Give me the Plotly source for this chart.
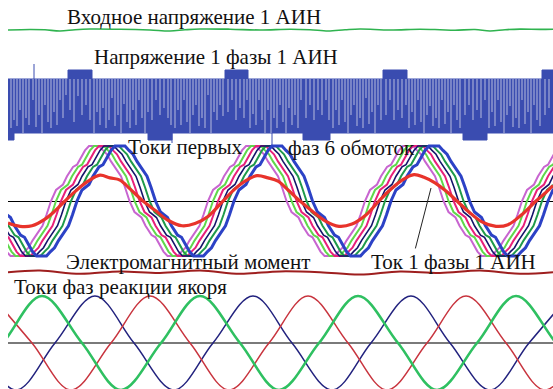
import plotly.graph_objects as go

W, H = 553, 389

# ---------------- data (time axis in samples, values in panel units) ----------------
# Input voltage of inverter 1 (small ripple around constant level)
vin_t = [8, 30, 45, 60, 75, 90, 120, 150, 170, 185, 200, 230, 260, 290, 310, 328, 345, 360, 390, 420, 440, 455, 475, 490, 505, 520, 540, 553]
vin_v = [0.0, 0.5, 0.2, -1.0, 0.3, 1.0, 0.8, 0.0, -1.0, 0.2, 1.0, 0.8, 0.0, 0.8, 0.3, -1.0, 0.2, 1.0, 0.0, 0.8, 0.3, -0.2, 0.5, -1.0, 0.3, 0.9, 0.6, 0.8]

# Phase voltage of inverter 1 (PWM): band levels and raised / lowered step intervals
pwm_band_hi, pwm_band_lo = 26, -28
pwm_step_hi, pwm_step_lo = 35, -35
pwm_up_start = [68, 225, 383, 542]
pwm_up_end = [92, 248, 407, 553]
pwm_dn_start = [8, 148, 303, 463]
pwm_dn_end = [14, 172, 330, 487]
pwm_t0, pwm_t1 = 8, 553
# switching gaps (instant, lower end of gap)
gap_t = [11, 14, 17, 20, 23, 26, 29, 33, 36, 39, 42, 45, 48, 51, 54, 57, 60, 63, 66,
         70, 74, 78, 82, 86, 90,
         94, 97, 100, 103, 106, 109, 112, 115, 118, 121, 124, 127, 130, 133, 136, 139, 142, 145,
         148, 152, 156, 160, 164, 168, 171,
         175, 178, 181, 184, 187, 190, 193, 196, 199, 202, 205, 208, 211, 214, 217, 220, 223,
         228, 232, 236, 240, 244, 247,
         250, 253, 256, 259, 262, 265, 268, 271, 274, 277, 280, 283, 286, 289, 292, 295, 298, 301,
         306, 310, 314, 318, 322, 326, 329,
         333, 336, 339, 342, 345, 348, 351, 354, 357, 360, 363, 366, 369, 372, 375, 378, 381,
         386, 390, 394, 398, 402, 406,
         409, 412, 415, 418, 421, 424, 427, 430, 433, 436, 439, 442, 445, 448, 451, 454, 457, 460,
         465, 469, 473, 477, 481, 485,
         489, 492, 495, 498, 501, 504, 507, 510, 513, 516, 519, 522, 525, 528, 531, 534, 537, 540,
         545, 549]
gap_lo = [-23, -15, -21, -5, -28, -13, -20, 5, -22, -10, -28, 0, -17, -23, -7, -20, 5, -13, 10,
          -5, -17, 9, -10, 0, -15,
          -28, -7, -20, -3, -23, -15, 7, -21, -10, -28, 1, -17, -23, -5, -20, 5, -13, -28,
          -7, -15, 5, -10, -3, -13, -20,
          -23, -5, -20, 5, -17, -28, -10, 0, -21, -13, -23, 10, -28, -7, -15, 0, -11,
          -7, 5, -15, -3, -13, 5,
          -23, -9, -20, 5, -15, -28, -5, -28, -13, -23, 0, -17, -28, -3, -20, -10, -23, 5,
          -13, 0, -15, -5, -10, 5, -15,
          -23, -5, -20, 5, -17, -28, -10, 0, -21, -13, -23, 7, -19, -7, -28, 0, -15,
          -10, 5, -15, -5, -13, 0,
          -23, -7, -20, 5, -17, -28, -10, -1, -21, -13, -23, 5, -19, -7, -28, 0, -15, -23,
          -10, 0, -15, -5, -13, 5,
          -23, -7, -21, 5, -17, -28, -10, -1, -22, -13, -23, 5, -19, -7, -28, 0, -15, -21,
          -10, -3]
spike_t = [34, 172, 272]
spike_end = [41, -38, -40]

# Currents of first phases of the 6 windings: one half-period shape, period, phase shifts
cur_period = 157
cur_shape_t = [0, 5, 8, 12, 16, 22, 26, 30, 34, 38, 48, 52, 56, 60, 66, 70, 74, 78.5]
cur_shape_v = [0.0, 0.2, 0.25, 0.3, 0.45, 0.62, 0.66, 0.8, 0.92, 1.0, 1.0, 0.92, 0.85, 0.72, 0.55, 0.45, 0.25, 0.0]
cur_names = ["обмотка 1", "обмотка 2", "обмотка 3", "обмотка 4", "обмотка 5", "обмотка 6"]
cur_shift = [51, 56, 61, 66, 71, 77]

# Current of phase 1 of inverter 1
i1_t = [8, 20, 32, 45, 55, 65, 75, 88, 100, 110, 120, 130, 143, 155, 168, 182, 195, 208, 222, 235, 245, 257,
        268, 278, 288, 300, 312, 325, 339, 352, 365, 379, 390, 402, 414, 424, 435, 446, 457, 469, 482, 496,
        508, 521, 536, 545, 553]
i1_v = [-0.40, -0.46, -0.45, -0.33, -0.18, 0.0, 0.17, 0.36, 0.47, 0.42, 0.38, 0.22, 0.0, -0.17, -0.35, -0.45,
        -0.41, -0.28, -0.02, 0.22, 0.36, 0.46, 0.42, 0.36, 0.2, 0.0, -0.18, -0.36, -0.46, -0.42, -0.27, 0.0,
        0.2, 0.38, 0.48, 0.43, 0.33, 0.18, 0.0, -0.2, -0.38, -0.46, -0.43, -0.26, 0.0, 0.14, 0.28]

# Electromagnetic torque
tq_t = [8, 40, 80, 120, 160, 200, 240, 280, 320, 360, 400, 440, 480, 520, 553]
tq_v = [0.1, 0.3, -0.1, 0.2, 0.0, 0.3, -0.1, 0.2, 0.1, -0.2, 0.2, 0.0, 0.3, -0.1, 0.1]

# Armature reaction phase currents: peaks / troughs / zero crossings (spline through them)
ar_green_t = [-37, 3, 42, 82, 121, 161, 200, 240, 279, 319, 358, 398, 437, 477, 516, 556, 595]
ar_green_v = [-1, 0, 1, 0, -1, 0, 1, 0, -1, 0, 1, 0, -1, 0, 1, 0, -1]
ar_navy_t = [-63, -24, 16, 55, 95, 134, 174, 213, 253, 292, 332, 371, 411, 450, 490, 529, 569]
ar_navy_v = [1, 0, -1, 0, 1, 0, -1, 0, 1, 0, -1, 0, 1, 0, -1, 0, 1]
ar_red_t = [-8, 32, 71, 111, 150, 190, 229, 269, 308, 348, 387, 427, 466, 506, 545, 585]
ar_red_v = [1, 0, -1, 0, 1, 0, -1, 0, 1, 0, -1, 0, 1, 0, -1, 0]

# ---------------- figure ----------------
def paper(py):
    return 1 - py / H

fig = go.Figure()

# panel 1: input voltage
fig.add_trace(go.Scatter(x=vin_t, y=vin_v, mode="lines", line=dict(color="#2fb34f", width=1.6, shape="spline"),
                         yaxis="y", showlegend=False))

# panel 2: PWM band polygon
ux, uy = [], []
bx = [pwm_t0]
bv = [pwm_band_hi]
for s, e in zip(pwm_up_start, pwm_up_end):
    bx += [s, e]
    bv += [pwm_step_hi, pwm_band_hi]
for i in range(len(bx)):
    x0 = bx[i]
    x1 = bx[i + 1] if i + 1 < len(bx) else pwm_t1
    ux += [x0, x1]
    uy += [bv[i], bv[i]]
lx, ly = [], []
cx = [pwm_t0]
cv = [pwm_band_lo]
for s, e in zip(pwm_dn_start, pwm_dn_end):
    if s == pwm_t0:
        cv[0] = pwm_step_lo
        cx.append(e)
        cv.append(pwm_band_lo)
    else:
        cx += [s, e]
        cv += [pwm_step_lo, pwm_band_lo]
for i in range(len(cx)):
    x0 = cx[i]
    x1 = cx[i + 1] if i + 1 < len(cx) else pwm_t1
    lx += [x0, x1]
    ly += [cv[i], cv[i]]
poly_x = ux + lx[::-1]
poly_y = uy + ly[::-1]
fig.add_trace(go.Scatter(x=poly_x, y=poly_y, mode="lines", fill="toself", fillcolor="#3a4cb0",
                         line=dict(color="#3a4cb0", width=1), yaxis="y2", showlegend=False))
gx, gy = [], []
for t, lo in zip(gap_t, gap_lo):
    gx += [t, t, None]
    gy += [pwm_band_hi, lo, None]
fig.add_trace(go.Scatter(x=gx, y=gy, mode="lines", line=dict(color="#c6c8e4", width=0.9),
                         yaxis="y2", showlegend=False))
sx, sy = [], []
for t, e in zip(spike_t, spike_end):
    sx += [t, t, None]
    sy += [pwm_band_hi if e > 0 else pwm_band_lo, e, None]
fig.add_trace(go.Scatter(x=sx, y=sy, mode="lines", line=dict(color="#3a4cb0", width=1),
                         yaxis="y2", showlegend=False))

# panel 3: currents of 6 windings
cur_colors = ["#c865d0", "#5fd84a", "#e8207a", "#14146a", "#1f9a4a", "#2c42c6"]
cur_widths = [2, 2, 2, 1.6, 2, 3]
order = [0, 1, 2, 4, 3, 5]
for idx in order:
    xs, ys = [], []
    for k in range(-2, 5):
        base = cur_shift[idx] + k * cur_period
        for t, v in zip(cur_shape_t, cur_shape_v):
            xs.append(base + t)
            ys.append(v)
        for t, v in zip(cur_shape_t, cur_shape_v):
            xs.append(base + cur_period / 2 + t)
            ys.append(-v)
    fig.add_trace(go.Scatter(x=xs, y=ys, mode="lines", name=cur_names[idx],
                             line=dict(color=cur_colors[idx], width=cur_widths[idx]),
                             yaxis="y3", showlegend=False))
fig.add_trace(go.Scatter(x=i1_t, y=i1_v, mode="lines", line=dict(color="#e8332b", width=3.2, shape="spline"),
                         yaxis="y3", showlegend=False))

# panel 4: torque
fig.add_trace(go.Scatter(x=tq_t, y=tq_v, mode="lines", line=dict(color="#9e1e1e", width=2, shape="spline"),
                         yaxis="y4", showlegend=False))

# panel 5: armature reaction currents
fig.add_trace(go.Scatter(x=ar_navy_t, y=ar_navy_v, mode="lines", line=dict(color="#22227e", width=1.5, shape="spline", smoothing=1.0),
                         yaxis="y5", showlegend=False))
fig.add_trace(go.Scatter(x=ar_red_t, y=ar_red_v, mode="lines", line=dict(color="#c8343e", width=1.5, shape="spline", smoothing=1.0),
                         yaxis="y5", showlegend=False))
fig.add_trace(go.Scatter(x=ar_green_t, y=ar_green_v, mode="lines", line=dict(color="#2fc061", width=2.6, shape="spline", smoothing=1.0),
                         yaxis="y5", showlegend=False))

ax_common = dict(visible=True, showgrid=False, showticklabels=False, ticks="", showline=False, fixedrange=True)
fig.update_layout(
    width=W, height=H, margin=dict(l=0, r=0, t=0, b=0),
    paper_bgcolor="white", plot_bgcolor="rgba(0,0,0,0)",
    xaxis=dict(domain=[8 / W, 1], range=[8, 553], zeroline=False, **ax_common),
    yaxis=dict(domain=[paper(40), paper(20)], range=[-10, 10], zeroline=False, **ax_common),
    yaxis2=dict(domain=[paper(150), paper(60)], range=[-45, 45], zeroline=False, **ax_common),
    yaxis3=dict(domain=[paper(262), paper(140)], range=[-1.109, 1.109], zeroline=True,
                zerolinecolor="#000000", zerolinewidth=1, **ax_common),
    yaxis4=dict(domain=[paper(281), paper(265)], range=[-1, 1], zeroline=False, **ax_common),
    yaxis5=dict(domain=[0, paper(286)], range=[-0.979, 1.213], zeroline=True,
                zerolinecolor="#7a7a7a", zerolinewidth=1.5, **ax_common),
)

font = dict(family="Liberation Serif", size=21, color="#111111")
labels = [
    ("Входное напряжение 1 АИН", 65, 17),
    ("Напряжение 1 фазы 1 АИН", 92, 57),
    ("Токи первых", 126, 147),
    ("фаз 6 обмоток", 286, 148),
    ("Электромагнитный момент", 64, 262),
    ("Ток 1 фазы 1 АИН", 369, 262),
    ("Токи фаз реакции якоря", 12, 287),
]
for txt, px, pyc in labels:
    fig.add_annotation(text=txt, x=px / W, y=paper(pyc), xref="paper", yref="paper",
                       xanchor="left", yanchor="middle", showarrow=False, font=font)
fig.add_annotation(text="", x=431, y=0.236, xref="x", yref="y3", ax=415, ay=-0.89, axref="x", ayref="y3",
                   showarrow=True, arrowhead=0, arrowwidth=1, arrowcolor="#222222")

fig.write_html("out.html")
